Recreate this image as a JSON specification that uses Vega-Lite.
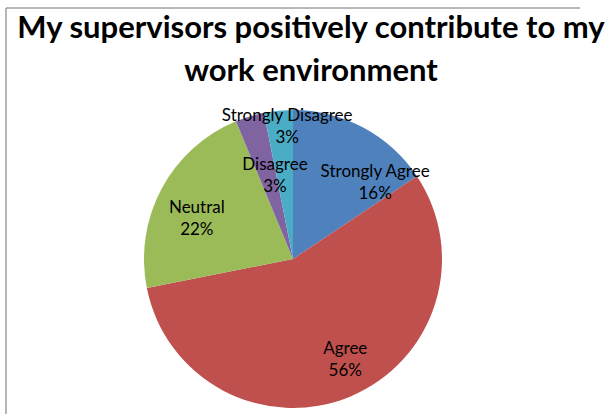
{
  "$schema": "https://vega.github.io/schema/vega-lite/v6.json",
  "width": 574,
  "height": 502,
  "autosize": {"type": "none"},
  "padding": {"left": 6, "top": 8, "right": 33, "bottom": -96},
  "background": "white",
  "view": {"stroke": "#A0A0A0", "strokeWidth": 1.5, "strokeDash": [574, 1076, 502, 0]},
  "title": {
    "text": ["My supervisors positively contribute to my", "work environment"],
    "font": "Lato",
    "fontSize": 31,
    "fontWeight": "bold",
    "color": "#000000",
    "anchor": "middle",
    "dx": 18,
    "lineHeight": 43,
    "offset": -80
  },
  "data": {
    "values": [
      {"category": "Strongly Agree", "count": 5, "rank": 1},
      {"category": "Agree", "count": 18, "rank": 2},
      {"category": "Neutral", "count": 7, "rank": 3},
      {"category": "Disagree", "count": 1, "rank": 4},
      {"category": "Strongly Disagree", "count": 1, "rank": 5}
    ]
  },
  "transform": [
    {"joinaggregate": [{"op": "sum", "field": "count", "as": "total"}]},
    {"stack": "count", "groupby": [], "sort": [{"field": "rank", "order": "ascending"}], "as": ["t0", "t1"]},
    {"calculate": "(datum.t0 + datum.t1) / 2", "as": "mid"},
    {"calculate": "[datum.category, format(datum.count / datum.total, '.0%')]", "as": "label"}
  ],
  "layer": [
    {
      "mark": {"type": "arc", "radius": 149},
      "encoding": {
        "theta": {"field": "t0", "type": "quantitative", "scale": {"domain": [0, 32]}},
        "theta2": {"field": "t1"},
        "color": {
          "field": "category",
          "type": "nominal",
          "scale": {
            "domain": ["Strongly Agree", "Agree", "Neutral", "Disagree", "Strongly Disagree"],
            "range": ["#4F81BD", "#C0504D", "#9BBB59", "#8064A2", "#4BACC6"]
          },
          "legend": null
        }
      }
    },
    {
      "transform": [{"filter": "datum.category === 'Strongly Agree'"}],
      "mark": {"type": "text", "radius": 100, "dx": 35, "dy": 1, "font": "Lato", "fontSize": 17, "lineHeight": 22, "baseline": "middle", "align": "center", "color": "#000000"},
      "encoding": {"theta": {"field": "mid", "type": "quantitative"}, "text": {"field": "label"}}
    },
    {
      "transform": [{"filter": "datum.category === 'Agree'"}],
      "mark": {"type": "text", "radius": 100, "dx": 14, "dy": -2, "font": "Lato", "fontSize": 17, "lineHeight": 22, "baseline": "middle", "align": "center", "color": "#000000"},
      "encoding": {"theta": {"field": "mid", "type": "quantitative"}, "text": {"field": "label"}}
    },
    {
      "transform": [{"filter": "datum.category === 'Neutral'"}],
      "mark": {"type": "text", "radius": 100, "dx": -8, "dy": -4, "font": "Lato", "fontSize": 17, "lineHeight": 22, "baseline": "middle", "align": "center", "color": "#000000"},
      "encoding": {"theta": {"field": "mid", "type": "quantitative"}, "text": {"field": "label"}}
    },
    {
      "transform": [{"filter": "datum.category === 'Disagree'"}],
      "mark": {"type": "text", "radius": 100, "dx": 11, "dy": 2, "font": "Lato", "fontSize": 17, "lineHeight": 22, "baseline": "middle", "align": "center", "color": "#000000"},
      "encoding": {"theta": {"field": "mid", "type": "quantitative"}, "text": {"field": "label"}}
    },
    {
      "transform": [{"filter": "datum.category === 'Strongly Disagree'"}],
      "mark": {"type": "text", "radius": 100, "dx": 4, "dy": -43, "font": "Lato", "fontSize": 17, "lineHeight": 22, "baseline": "middle", "align": "center", "color": "#000000"},
      "encoding": {"theta": {"field": "mid", "type": "quantitative"}, "text": {"field": "label"}}
    }
  ]
}
